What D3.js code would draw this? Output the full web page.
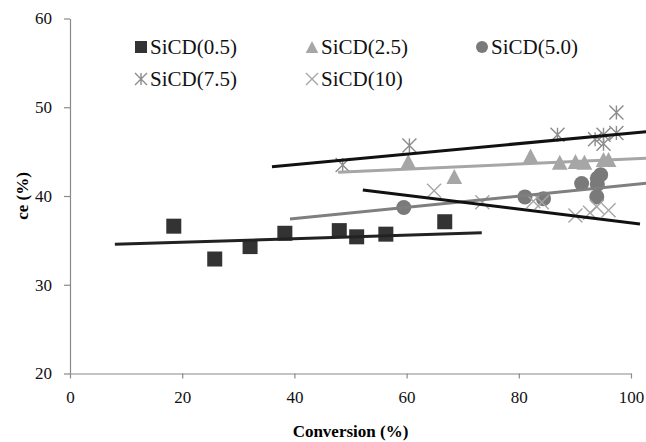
<!DOCTYPE html>
<html><head><meta charset="utf-8">
<script src="https://cdn.jsdelivr.net/npm/d3@7"></script>
<style>body{margin:0;background:#fff}svg{display:block}</style>
</head><body>
<svg id="c" width="646" height="442"></svg>
<script>
// ---- data ----
const seriesNames = ["SiCD(0.5)", "SiCD(2.5)", "SiCD(5.0)", "SiCD(7.5)", "SiCD(10)"];
const conv05 = [18.5, 25.8, 32.1, 38.3, 48.0, 51.1, 56.3, 66.8];
const ce05   = [36.6, 32.9, 34.3, 35.8, 36.1, 35.4, 35.7, 37.1];
const conv25 = [60.3, 68.5, 82.1, 87.3, 90.1, 91.7, 95.1, 96.0];
const ce25   = [43.9, 42.2, 44.5, 43.8, 43.9, 43.8, 44.1, 44.1];
const conv50 = [59.5, 81.1, 84.4, 91.2, 93.9, 94.0, 94.6, 94.0];
const ce50   = [38.7, 39.9, 39.7, 41.4, 39.9, 41.3, 42.4, 42.0];
const conv75 = [48.6, 60.5, 86.9, 93.6, 95.1, 95.1, 97.4, 97.4];
const ce75   = [43.5, 45.7, 46.9, 46.4, 46.9, 45.9, 47.1, 49.4];
const conv10 = [64.9, 73.5, 82.6, 84.1, 90.1, 92.7, 93.9, 96.0];
const ce10   = [40.6, 39.3, 39.4, 39.3, 37.8, 38.1, 38.8, 38.4];
// trend lines (endpoints)
const trend05 = [[8, 34.55], [73.4, 35.86]];
const trend25 = [[47.8, 42.67], [102.7, 44.25]];
const trend50 = [[39.2, 37.4], [102.7, 41.43]];
const trend75 = [[36, 43.29], [102.7, 47.25]];
const trend10 = [[52.2, 40.68], [101.6, 36.85]];
const xTicks = [0, 20, 40, 60, 80, 100];
const yTicks = [20, 30, 40, 50, 60];

const svg = d3.select("#c");
const x = d3.scaleLinear().domain([0, 100]).range([70, 631]);
const y = d3.scaleLinear().domain([20, 60]).range([373.5, 18.5]);
const FONT = "'Liberation Serif','Times New Roman',serif";

// axes
const gx = svg.append("g").attr("transform", `translate(0,${y(20)})`)
  .call(d3.axisBottom(x).tickValues(xTicks).tickSize(5).tickSizeOuter(0).tickPadding(12));
const gy = svg.append("g").attr("transform", `translate(${x(0)},0)`)
  .call(d3.axisLeft(y).tickValues(yTicks).tickSize(6).tickSizeOuter(0).tickPadding(12));
[gx, gy].forEach(g => {
  g.selectAll("path,line").attr("stroke", "#8a8a8a").attr("stroke-width", 1.2);
  g.selectAll("text").attr("font-family", FONT).attr("font-size", 17).attr("fill", "#111");
});

svg.append("text").attr("x", x(50)).attr("y", 437).attr("text-anchor", "middle")
  .attr("font-family", FONT).attr("font-weight", "bold").attr("font-size", 17).text("Conversion (%)");
svg.append("text").attr("transform", `translate(28,${y(40)}) rotate(-90)`).attr("text-anchor", "middle")
  .attr("font-family", FONT).attr("font-weight", "bold").attr("font-size", 17).text("ce (%)");

// marker drawing
function marker(g, type, cx, cy, s, color) {
  const h = s / 2;
  if (type === "square") {
    g.append("rect").attr("x", cx - h).attr("y", cy - h).attr("width", s).attr("height", s).attr("fill", color);
  } else if (type === "triangle") {
    g.append("path").attr("d", `M${cx},${cy - h}L${cx + h * 1.05},${cy + h}L${cx - h * 1.05},${cy + h}Z`).attr("fill", color);
  } else if (type === "circle") {
    g.append("circle").attr("cx", cx).attr("cy", cy).attr("r", h).attr("fill", color);
  } else if (type === "star") {
    g.append("path").attr("d", `M${cx - h},${cy - h}L${cx + h},${cy + h}M${cx - h},${cy + h}L${cx + h},${cy - h}M${cx},${cy - h}L${cx},${cy + h}`)
      .attr("stroke", color).attr("stroke-width", 1.4).attr("fill", "none");
  } else if (type === "x") {
    g.append("path").attr("d", `M${cx - h},${cy - h}L${cx + h},${cy + h}M${cx - h},${cy + h}L${cx + h},${cy - h}`)
      .attr("stroke", color).attr("stroke-width", 1.4).attr("fill", "none");
  }
}

const series = [
  {conv: conv05, ce: ce05, trend: trend05, type: "square", color: "#333333", line: "#222222", size: 15},
  {conv: conv25, ce: ce25, trend: trend25, type: "triangle", color: "#a6a6a6", line: "#a6a6a6", size: 15},
  {conv: conv50, ce: ce50, trend: trend50, type: "circle", color: "#7a7a7a", line: "#7f7f7f", size: 15},
  {conv: conv75, ce: ce75, trend: trend75, type: "star", color: "#8c8c8c", line: "#111111", size: 14},
  {conv: conv10, ce: ce10, trend: trend10, type: "x", color: "#a6a6a6", line: "#111111", size: 14}
];

const line = d3.line().x(d => x(d[0])).y(d => y(d[1]));
const gm = svg.append("g");
// markers first, trendlines over them (as in reference)
series.forEach(s => {
  s.conv.forEach((c, i) => marker(gm, s.type, x(c), y(s.ce[i]), s.size, s.color));
});
series.forEach(s => {
  svg.append("path").attr("d", line(s.trend)).attr("fill", "none").attr("stroke", s.line).attr("stroke-width", 3);
});

// legend
const legendPos = [[141, 47], [312, 47], [482, 47], [141, 79], [312, 79]];
series.forEach((s, i) => {
  const [lx, ly] = legendPos[i];
  marker(svg, s.type, lx, ly, 12, s.color);
  svg.append("text").attr("x", lx + 9).attr("y", ly).attr("dy", "0.35em")
    .attr("font-family", FONT).attr("font-size", 21).attr("fill", "#111").text(seriesNames[i]);
});
</script>
</body></html>
